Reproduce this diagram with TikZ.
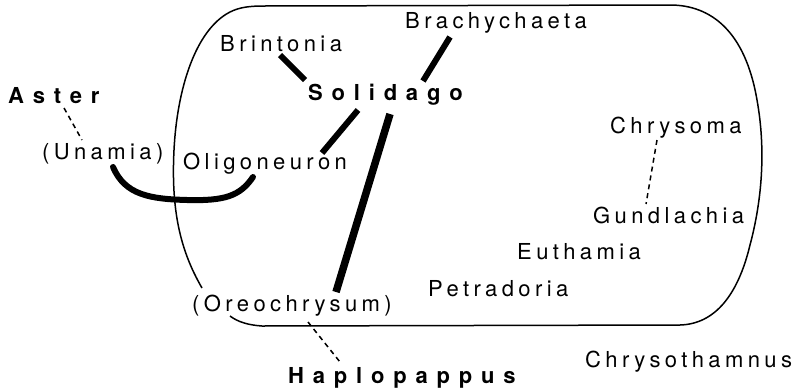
\documentclass[tikz,border=0pt]{standalone}
\usepackage{fontspec}
\newfontfamily\regf[LetterSpace=20]{TeX Gyre Heros}
\newfontfamily\boldf[LetterSpace=40]{TeX Gyre Heros}
\tikzset{
  lab/.style={anchor=base west, inner sep=0pt, font=\regf\fontsize{22}{26}\selectfont},
  blab/.style={anchor=base west, inner sep=0pt, font=\boldf\bfseries\fontsize{22}{26}\selectfont},
  thk/.style={line width=6pt, line cap=butt},
  dsh/.style={line width=1.5pt, dash pattern=on 5pt off 4pt},
  outl/.style={line width=1.5pt}
}
\begin{document}
\begin{tikzpicture}[x=1pt,y=-1pt]
\useasboundingbox (0,0) rectangle (810,391);
% outline
\draw[outl] (202,288) .. controls (180,250) and (171,210) .. (174,150)
  .. controls (177,90) and (195,30) .. (230,12)
  .. controls (240,7) and (250,6) .. (265,6) -- (670,5)
  .. controls (710,5) and (745,30) .. (757,100)
  .. controls (766,150) and (762,200) .. (750,245)
  .. controls (738,295) and (715,324) .. (680,325)
  -- (262,326) .. controls (248,325) and (238,322) .. (230,316);
% labels
\node[lab] (brin) at (220,51) {Brintonia};
\node[lab] (brac) at (405,28) {Brachychaeta};
\node[blab] (soli) at (308,100) {Solidago};
\node[blab] (aste) at (8,103) {Aster};
\node[lab] (unam) at (42,159) {(Unamia)};
\node[lab] (olig) at (183,169) {Oligoneuron};
\node[lab] (chma) at (610,133) {Chrysoma};
\node[lab] (gund) at (593,223) {Gundlachia};
\node[lab] (euth) at (517,259) {Euthamia};
\node[lab] (petr) at (428,296) {Petradoria};
\node[lab] (oreo) at (192,311) {(Oreochrysum)};
\node[blab] (hapl) at (288,383) {Haplopappus};
\node[lab] (chth) at (585,367) {Chrysothamnus};
% thick connectors
\draw[thk] ([shift={(60,4)}]brin.base west) -- ([shift={(-3,-20)}]soli.base west);
\draw[thk] ([shift={(45,9)}]brac.base west) -- ([shift={(115,-19)}]soli.base west);
\draw[thk] ([shift={(50,10)}]soli.base west) -- ([shift={(139,-16)}]olig.base west);
\draw[line width=7.5pt] ([shift={(82,14)}]soli.base west) -- ([shift={(144,-19)}]oreo.base west);
\draw[thk, line cap=round] ([shift={(71,8)}]unam.base west)
  .. controls ([shift={(83,36)}]unam.base west) and ([shift={(108,40)}]unam.base west) .. ([shift={(145,41)}]unam.base west)
  .. controls ([shift={(183,42)}]unam.base west) and ([shift={(57,27)}]olig.base west) .. ([shift={(70,8)}]olig.base west);
% dashed connectors
\draw[dsh] ([shift={(56,5)}]aste.base west) -- ([shift={(40,-19)}]unam.base west);
\draw[dsh] ([shift={(47,7)}]chma.base west) -- ([shift={(53,-19)}]gund.base west);
\draw[dsh] ([shift={(116,11)}]oreo.base west) -- ([shift={(52,-21)}]hapl.base west);
\end{tikzpicture}
\end{document}
